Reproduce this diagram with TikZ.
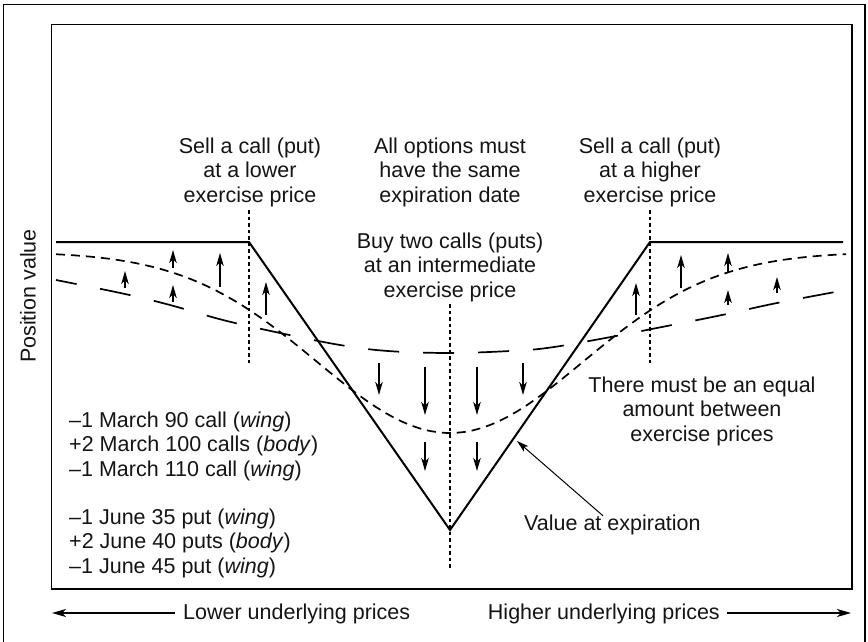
\documentclass[tikz,border=0pt]{standalone}
\usepackage{fontspec}
\setmainfont{Liberation Sans}
\usetikzlibrary{arrows.meta}
\begin{document}
\begin{tikzpicture}[x=1pt,y=-1pt,
  lbl/.style={font=\fontsize{21.5}{24.5}\selectfont, inner sep=0pt, text=black!92},
  frameline/.style={line width=1.4pt},
  expline/.style={line width=2pt, line join=miter},
  nearcurve/.style={line width=1.7pt, dash pattern=on 9pt off 6pt},
  farcurve/.style={line width=1.7pt, dash pattern=on 31pt off 24pt, dash phase=10pt},
  strikeline/.style={line width=1.8pt, dash pattern=on 3.5pt off 3pt},
  movear/.style={line width=1.3pt, -{Stealth[length=13pt,width=7.5pt,inset=3.5pt]}},
  axisar/.style={line width=1.2pt, -{Stealth[length=14pt,width=8pt,inset=4pt]}},
  pointer/.style={line width=1pt, -{Stealth[length=12pt,width=7pt,inset=3pt]}}
]
\useasboundingbox (0,0) rectangle (868,642);
% outer frame (bottom edge cut off)
\draw[frameline] (3.5,642) -- (3.5,4.5) -- (865,4.5) -- (865,642);
% inner plot box
\draw[frameline] (51.7,24.7) rectangle (852,589);

% strike markers
\draw[strikeline] (249,210) -- (249,366);
\draw[strikeline] (450,304) -- (450,570);
\draw[strikeline] (650,210) -- (650,366);

% value at expiration
\coordinate (L0) at (56,242);
\coordinate (K1) at (249,242);
\coordinate (K2) at (450,530);
\coordinate (K3) at (650,242);
\coordinate (R0) at (843,242);
\draw[expline] (L0) -- (K1) -- (K2) -- (K3) -- (R0);

% near-expiration value
\draw[nearcurve] plot[domain=56:846, samples=90] (\x, {252+181*exp(-((\x-450)/133)^2/2)});

% far-from-expiration value
\draw[farcurve] plot[smooth, tension=0.6] coordinates {(56,280) (125,294) (170,305) (223,320) (280,333) (340,345) (388,351) (450,353) (510,351) (547,348) (600,339) (667,326) (722,315) (777,303) (846,290)};

% upward moves
\draw[movear] (125,288) -- (125,271);
\draw[movear] (173,302) -- (173,285);
\draw[movear] (173,268) -- (173,250);
\draw[movear] (220,287) -- (220,253);
\draw[movear] (266,315) -- (266,282);
\draw[movear] (636,315) -- (636,283);
\draw[movear] (681,288) -- (681,255);
\draw[movear] (728,305) -- (728,290);
\draw[movear] (728,272) -- (728,253);
\draw[movear] (777,293) -- (777,277);

% downward moves
\draw[movear] (379,363) -- (379,395);
\draw[movear] (425,367) -- (425,415);
\draw[movear] (477,367) -- (477,415);
\draw[movear] (523,363) -- (523,395);
\draw[movear] (425,442) -- (425,471);
\draw[movear] (477,442) -- (477,471);

% labels
\node[lbl, align=center] (sl) at (250,172) {Sell a call (put)\\at a lower\\exercise price};
\node[lbl, align=center] (ao) at (450,172) {All options must\\have the same\\expiration date};
\node[lbl, align=center] (sh) at (650,172) {Sell a call (put)\\at a higher\\exercise price};
\node[lbl, align=center] (bt) at (450,267) {Buy two calls (puts)\\at an intermediate\\exercise price};
\node[lbl, align=center] (eq) at (702,411) {There must be an equal\\amount between\\exercise prices};
\node[lbl, align=left, anchor=west] (mar) at (69,446) {--1 March 90 call (\textit{wing})\\+2 March 100 calls (\textit{body})\\--1 March 110 call (\textit{wing})};
\node[lbl, align=left, anchor=west] (jun) at (69,543) {--1 June 35 put (\textit{wing})\\+2 June 40 puts (\textit{body})\\--1 June 45 put (\textit{wing})};
\node[lbl, anchor=west] (val) at (524,525) {Value at expiration};
\coordinate (pt) at (517,441);
\draw[pointer] (val.north -| 603,0) ++(0,1) -- (pt);
\node[lbl, rotate=90] (pv) at (28,296) {Position value};

% price direction
\node[lbl, anchor=west] (lo) at (183,614) {Lower underlying prices};
\node[lbl, anchor=east] (hi) at (720,614) {Higher underlying prices};
\coordinate (loend) at (52,613);
\coordinate (hiend) at (851,613);
\draw[axisar] (lo.west) ++(-8,-1) -- (loend);
\draw[axisar] (hi.east) ++(7,-1) -- (hiend);
\end{tikzpicture}
\end{document}
